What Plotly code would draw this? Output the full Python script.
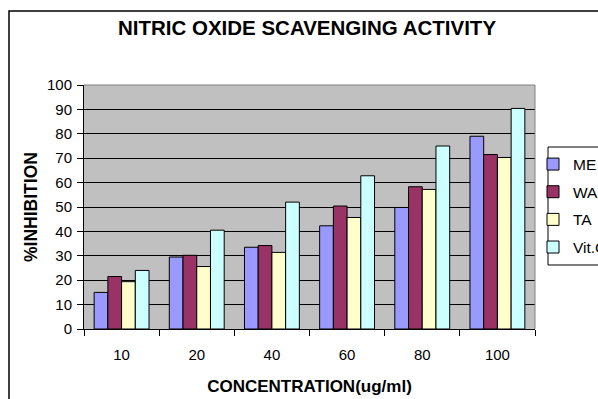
import plotly.graph_objects as go

concentrations = ["10", "20", "40", "60", "80", "100"]
me_values = [15, 29.5, 33.5, 42.3, 49.8, 79]
wa_values = [21.5, 30.2, 34.2, 50.4, 58.3, 71.5]
ta_values = [19.4, 25.6, 31.4, 45.7, 57.2, 70.3]
vitc_values = [24, 40.5, 52, 62.8, 75, 90.4]

series_names = ["ME", "WA", "TA", "Vit.C"]
series_values = [me_values, wa_values, ta_values, vitc_values]
series_colors = ["#9999FF", "#993366", "#FFFFCC", "#CCFFFF"]

W, H = 598, 399
L, R, T, B = 84, 63, 85, 70
pw, ph = W - L - R, H - T - B

def px_x(x):
    return (x - L) / pw

def px_y(y):
    return 1 - (y - T) / ph

FONT = "Liberation Sans, Arial, sans-serif"

fig = go.Figure()
for name, vals, col in zip(series_names, series_values, series_colors):
    fig.add_trace(go.Bar(
        x=concentrations, y=vals, name=name, legendgroup=name,
        marker=dict(color=col, line=dict(color="#000000", width=1)),
    ))

fig.update_layout(
    width=W, height=H,
    margin=dict(l=L, r=R, t=T, b=B, autoexpand=False),
    paper_bgcolor="white",
    plot_bgcolor="#C0C0C0",
    barmode="group", bargap=0.27, bargroupgap=0,
    font=dict(family=FONT, size=15, color="black"),
    title=dict(text="<b>NITRIC OXIDE SCAVENGING ACTIVITY</b>",
               x=307 / W, xanchor="center", y=1 - 28 / H, yanchor="middle",
               font=dict(family=FONT, size=20.5, color="black")),
    xaxis=dict(
        type="category", showline=True, linecolor="black", linewidth=1,
        ticks="outside", ticklen=6, tickcolor="black", tickson="boundaries",
        showgrid=False, ticklabelstandoff=12,
        tickfont=dict(family=FONT, size=15),
        title=dict(text="<b>CONCENTRATION(ug/ml)</b>", standoff=18,
                   font=dict(family=FONT, size=17)),
    ),
    yaxis=dict(
        range=[0, 100], dtick=10, showline=True, linecolor="black", linewidth=1,
        ticks="outside", ticklen=6, tickcolor="black",
        showgrid=True, gridcolor="#000000", gridwidth=1, zeroline=False,
        ticklabelstandoff=2,
        tickfont=dict(family=FONT, size=15),
        title=dict(text="<b>%INHIBITION</b>", standoff=4,
                   font=dict(family=FONT, size=17.5)),
    ),
    legend=dict(
        x=px_x(533), xanchor="left", y=px_y(147.5), yanchor="top",
        bgcolor="rgba(0,0,0,0)", borderwidth=0,
        tracegroupgap=4.5, font=dict(family=FONT, size=15.5),
    ),
    shapes=[
        # outer chart border
        dict(type="rect", xref="paper", yref="paper",
             x0=px_x(9), x1=2, y0=-1, y1=px_y(11),
             line=dict(color="black", width=1.5), fillcolor="rgba(0,0,0,0)", layer="below"),
        # legend box
        dict(type="rect", xref="paper", yref="paper",
             x0=px_x(548), x1=2, y0=px_y(265), y1=px_y(147),
             line=dict(color="black", width=1), fillcolor="white", layer="above"),
        # plot area border top/right
        dict(type="line", xref="paper", yref="paper", x0=0, x1=1, y0=1, y1=1,
             line=dict(color="#808080", width=1), layer="above"),
        dict(type="line", xref="paper", yref="paper", x0=1, x1=1, y0=0, y1=1,
             line=dict(color="#808080", width=1), layer="above"),
    ],
)

fig.write_html("out.html")
